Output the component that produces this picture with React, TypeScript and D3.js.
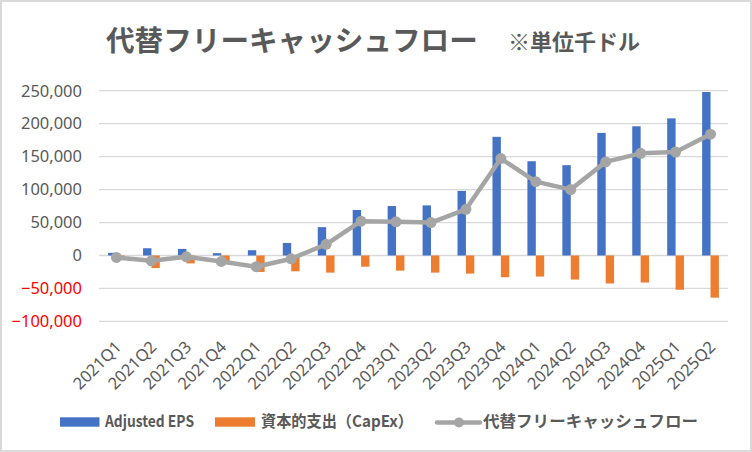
import React, { useEffect } from "react";
import * as d3 from "d3";

const categories = [
  "2021Q1", "2021Q2", "2021Q3", "2021Q4",
  "2022Q1", "2022Q2", "2022Q3", "2022Q4",
  "2023Q1", "2023Q2", "2023Q3", "2023Q4",
  "2024Q1", "2024Q2", "2024Q3", "2024Q4",
  "2025Q1", "2025Q2",
];
const adjustedEps = [
  4000, 11000, 10000, 3500, 8000, 19000, 43000, 69000, 75000, 76000, 98000,
  180000, 143000, 137000, 186000, 196000, 208000, 248000,
];
const capex = [
  -7000, -19000, -12000, -12500, -25000, -24000, -26000, -17000, -23000,
  -26000, -27500, -33000, -32000, -36500, -42500, -41000, -52000, -64000,
];
const altFcf = [
  -3000, -8000, -2000, -9000, -17000, -5000, 17000, 52000, 51000, 50000,
  70000, 147000, 112000, 100000, 142000, 155000, 157000, 184000,
];
const yTicks = [-100000, -50000, 0, 50000, 100000, 150000, 200000, 250000];
const seriesNames = ["Adjusted EPS", "資本的支出（CapEx）", "代替フリーキャッシュフロー"];

const W = 752;
const H = 452;
const FONT = "'Noto Sans CJK JP', 'Noto Sans', sans-serif";
const NUM_FONT = "'Noto Sans', sans-serif";
const BLUE = "#4472C4";
const ORANGE = "#ED7D31";
const GRAY = "#A5A5A5";
const TEXT = "#595959";

export default function App() {
  useEffect(() => {
    document.body.style.margin = "0";
  }, []);

  const x = d3.scaleBand<string>().domain(categories).range([99, 728]).padding(0);
  const y = d3.scaleLinear().domain([-100000, 250000]).range([321.4, 90.7]);
  const bw = x.bandwidth() * 0.24;
  const cx = (c: string) => (x(c) ?? 0) + x.bandwidth() / 2;
  const fmt = d3.format(",");

  const line = d3
    .line<number>()
    .x((_, i) => cx(categories[i]))
    .y((d) => y(d));

  return (
    <svg width={W} height={H} style={{ display: "block" }} fontFamily={FONT}>
      <rect x={0} y={0} width={W} height={H} fill="#fff" />
      <rect x={1} y={1} width={W - 2} height={H - 2} fill="none" stroke="#d9d9d9" strokeWidth={2} />

      <text x={106} y={50.5} fontSize={28.6} fontWeight={700} fill={TEXT}>
        代替フリーキャッシュフロー
      </text>
      <text x={508} y={50} fontSize={22} fontWeight={700} fill={TEXT}>
        ※単位千ドル
      </text>

      {yTicks.map((t) => (
        <g key={t}>
          <line x1={99} x2={728} y1={y(t)} y2={y(t)} stroke="#d9d9d9" strokeWidth={1.3} />
          <text
            x={82}
            y={y(t) + 5.8}
            textAnchor="end"
            fontSize={16.5}
            fontFamily={NUM_FONT}
            fill={t < 0 ? "#FF0000" : TEXT}
          >
            {fmt(t)}
          </text>
        </g>
      ))}

      {adjustedEps.map((v, i) => (
        <rect
          key={"b" + i}
          x={cx(categories[i]) - bw}
          y={y(Math.max(0, v))}
          width={bw}
          height={Math.abs(y(v) - y(0))}
          fill={BLUE}
        />
      ))}
      {capex.map((v, i) => (
        <rect
          key={"o" + i}
          x={cx(categories[i])}
          y={y(Math.max(0, v))}
          width={bw}
          height={Math.abs(y(v) - y(0))}
          fill={ORANGE}
        />
      ))}

      <path d={line(altFcf) ?? ""} fill="none" stroke={GRAY} strokeWidth={4.5} strokeLinejoin="round" />
      {altFcf.map((v, i) => (
        <circle key={"c" + i} cx={cx(categories[i])} cy={y(v)} r={5.5} fill={GRAY} />
      ))}

      {categories.map((c) => (
        <text
          key={c}
          transform={`translate(${cx(c) + 6},${348}) rotate(-45)`}
          textAnchor="end"
          fontSize={16.5}
          fontFamily={NUM_FONT}
          fill={TEXT}
        >
          {c}
        </text>
      ))}

      <g fontSize={16} fontWeight={600} fill={TEXT}>
        <rect x={60} y={417.3} width={39.5} height={9.4} fill={BLUE} />
        <text x={105} y={427} textLength={89} lengthAdjust="spacingAndGlyphs">
          {seriesNames[0]}
        </text>
        <rect x={215} y={417.3} width={40} height={9.4} fill={ORANGE} />
        <text x={261} y={427} textLength={152} lengthAdjust="spacingAndGlyphs">
          {seriesNames[1]}
        </text>
        <line x1={437} x2={480} y1={422.5} y2={422.5} stroke={GRAY} strokeWidth={4.5} strokeLinecap="round" />
        <circle cx={459} cy={422.5} r={5} fill={GRAY} />
        <text x={483} y={427} textLength={215} lengthAdjust="spacingAndGlyphs">
          {seriesNames[2]}
        </text>
      </g>
    </svg>
  );
}
